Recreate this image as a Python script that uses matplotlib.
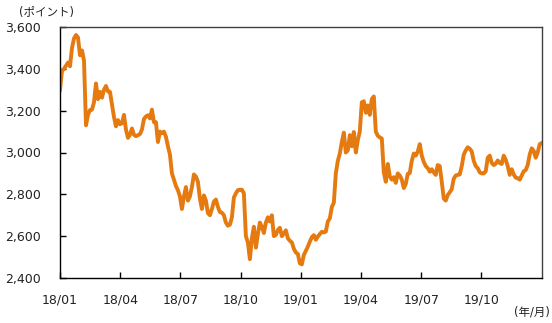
import numpy as np
import matplotlib
matplotlib.use("Agg")
import matplotlib.pyplot as plt

plt.rcParams['font.family'] = ['DejaVu Sans', 'Noto Sans CJK JP']

# index level, sampled evenly from 2018/01 to end of 2019/12
values = [
    3300, 3390, 3400, 3415, 3430, 3412, 3500, 3545, 3562, 3550,
    3465, 3488, 3440, 3130, 3180, 3203, 3205, 3240, 3330, 3255,
    3290, 3262, 3300, 3318, 3292, 3290, 3230, 3170, 3125, 3155,
    3135, 3140, 3180, 3110, 3070, 3085, 3115, 3085, 3078, 3083,
    3088, 3110, 3160, 3172, 3178, 3163, 3205, 3145, 3145, 3050,
    3100, 3092, 3100, 3075, 3030, 2990, 2900, 2870, 2840, 2820,
    2790, 2730, 2789, 2835, 2770, 2790, 2835, 2895, 2885, 2860,
    2780, 2730, 2795, 2770, 2710, 2700, 2730, 2765, 2775, 2740,
    2715, 2712, 2700, 2665, 2650, 2655, 2690, 2785, 2805, 2820,
    2822, 2822, 2805, 2600, 2570, 2490, 2590, 2645, 2545, 2610,
    2665, 2645, 2615, 2665, 2690, 2670, 2700, 2600, 2606, 2630,
    2640, 2600, 2612, 2628, 2590, 2578, 2570, 2540, 2522, 2515,
    2470, 2465, 2510, 2530, 2550, 2574, 2595, 2605, 2583, 2598,
    2610, 2621, 2618, 2622, 2670, 2685, 2740, 2760, 2900, 2960,
    2995, 3050, 3095, 3000, 3010, 3083, 3030, 3098, 3000, 3060,
    3100, 3240, 3245, 3190, 3225, 3180, 3255, 3268, 3100, 3080,
    3072, 3067, 2905, 2860, 2945, 2885, 2870, 2882, 2855, 2900,
    2890, 2870, 2830, 2850, 2898, 2902, 2960, 2995, 2985, 3005,
    3040, 2985, 2955, 2935, 2925, 2908, 2920, 2905, 2893, 2940,
    2935, 2860, 2780, 2770, 2797, 2810, 2825, 2875, 2890, 2893,
    2895, 2935, 2990, 3010, 3025, 3018, 3005, 2960, 2935, 2925,
    2905, 2900, 2900, 2910, 2975, 2985, 2950, 2940, 2946, 2962,
    2950, 2945, 2985, 2965, 2935, 2893, 2920, 2895, 2880, 2877,
    2870, 2890, 2910, 2916, 2940, 2990, 3020, 3008, 2975, 3000,
    3040, 3045,
]
months = np.linspace(0, 24, len(values))

tick_months = [0, 3, 6, 9, 12, 15, 18, 21]
tick_labels = ['18/01', '18/04', '18/07', '18/10', '19/01', '19/04', '19/07', '19/10']
yticks = [2400, 2600, 2800, 3000, 3200, 3400, 3600]

fig = plt.figure(figsize=(5.52, 3.23), dpi=100)
ax = fig.add_axes([60 / 552, 45 / 323, 481.7 / 552, 251 / 323])

ax.plot(months, values, color='#E57A10', lw=2.8, solid_joinstyle='round')

ax.set_xlim(0, 24)
ax.set_ylim(2400, 3600)
ax.set_xticks(tick_months)
ax.set_xticklabels(tick_labels)
ax.set_yticks(yticks)
ax.set_yticklabels([f'{v:,}' for v in yticks])

ax.tick_params(axis='x', direction='in', length=4, width=1, pad=11.5,
               labelsize=9, labelcolor='#222222')
ax.tick_params(axis='y', direction='in', length=4, width=1, pad=14,
               labelsize=9, labelcolor='#222222')

for side in ['left', 'bottom']:
    ax.spines[side].set_color('black')
    ax.spines[side].set_linewidth(1.0)
for side in ['top', 'right']:
    ax.spines[side].set_color('#404040')
    ax.spines[side].set_linewidth(1.0)

fig.text(46 / 552, 1 - 12.7 / 323, '(ポイント)', ha='center', va='center',
         fontsize=8.3, color='#222222')
fig.text(550 / 552, 1 - 312 / 323, '(年/月)', ha='right', va='center',
         fontsize=8.3, color='#222222')

fig.savefig('out.png', dpi=100)
